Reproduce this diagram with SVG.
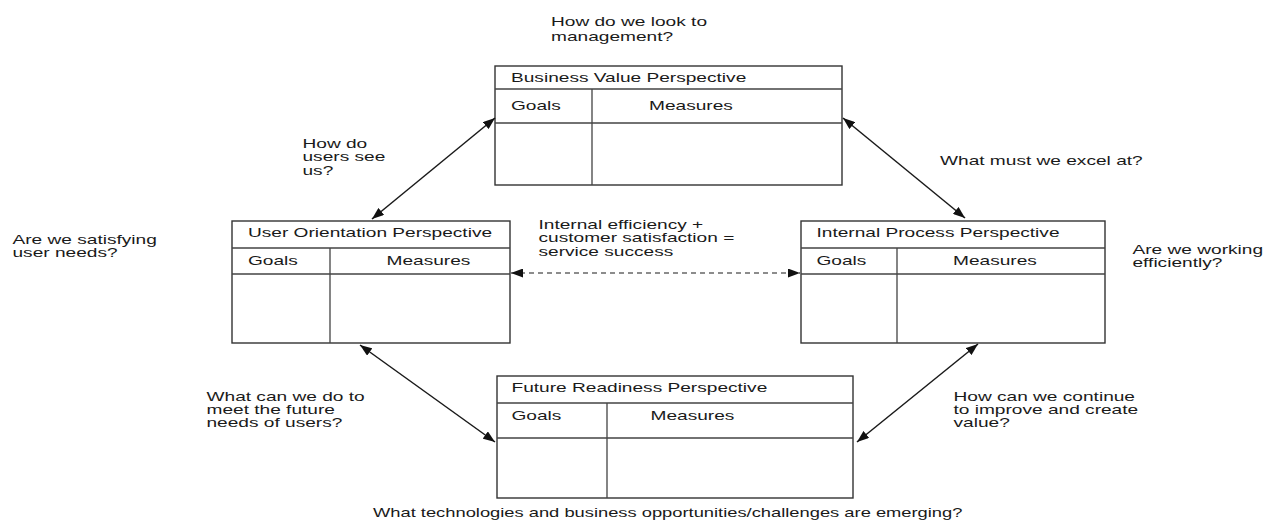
<svg xmlns="http://www.w3.org/2000/svg" width="1274" height="523" viewBox="0 0 1274 523">
  <style>
    .box { fill: #fff; stroke: #333; stroke-width: 1.4; }
    .div { stroke: #444; stroke-width: 1.3; fill: none; }
    .lbl { font-family: "Liberation Sans", Arial, sans-serif; font-size: 13px; fill: #1a1a1a; }
    .conn { stroke: #1a1a1a; stroke-width: 1.5; fill: none; }
    .dash { stroke-dasharray: 5 4; stroke-width: 1.2; }
  </style>
  <defs>
    <marker id="arrow" viewBox="0 0 12 9" refX="12" refY="4.5" markerWidth="12" markerHeight="9" markerUnits="userSpaceOnUse" orient="auto-start-reverse">
      <path d="M0,0 L12,4.5 L0,9 z" fill="#111"/>
    </marker>
  </defs>

  <rect width="1274" height="523" fill="#fff"/>

  <!-- free-standing questions -->
  <g id="questions" class="lbl">
    <text transform="translate(551,25.5) scale(1.47,1)"><tspan x="0">How do we look to</tspan><tspan x="0" dy="15.3">management?</tspan></text>
    <text transform="translate(302.5,147.5) scale(1.47,1)"><tspan x="0">How do</tspan><tspan x="0" dy="14">users see</tspan><tspan x="0" dy="14">us?</tspan></text>
    <text transform="translate(940,165) scale(1.47,1)">What must we excel at?</text>
    <text transform="translate(12.5,244) scale(1.47,1)"><tspan x="0">Are we satisfying</tspan><tspan x="0" dy="13">user needs?</tspan></text>
    <text transform="translate(1132.5,254) scale(1.47,1)"><tspan x="0">Are we working</tspan><tspan x="0" dy="13.5">efficiently?</tspan></text>
    <text transform="translate(538.5,228.5) scale(1.47,1)"><tspan x="0">Internal efficiency +</tspan><tspan x="0" dy="13.5">customer satisfaction =</tspan><tspan x="0" dy="14">service success</tspan></text>
    <text transform="translate(206.5,401) scale(1.47,1)"><tspan x="0">What can we do to</tspan><tspan x="0" dy="13.2">meet the future</tspan><tspan x="0" dy="13.2">needs of users?</tspan></text>
    <text transform="translate(953.5,401) scale(1.47,1)"><tspan x="0">How can we continue</tspan><tspan x="0" dy="13.2">to improve and create</tspan><tspan x="0" dy="13.2">value?</tspan></text>
    <text transform="translate(373,516.5) scale(1.41,1)">What technologies and business opportunities/challenges are emerging?</text>
  </g>

  <!-- perspective tables -->
  <g id="business-value">
    <rect class="box" x="495" y="66" width="347" height="119"/>
    <path class="div" d="M495,89 H842 M495,123 H842 M592,89 V185"/>
    <text class="lbl" transform="translate(511,81.5) scale(1.47,1)">Business Value Perspective</text>
    <text class="lbl" transform="translate(511,109.5) scale(1.47,1)">Goals</text>
    <text class="lbl" transform="translate(649,109.5) scale(1.47,1)">Measures</text>
  </g>

  <g id="user-orientation">
    <rect class="box" x="232" y="221" width="278" height="122"/>
    <path class="div" d="M232,248 H510 M232,274 H510 M330,248 V343"/>
    <text class="lbl" transform="translate(248,236.5) scale(1.47,1)">User Orientation Perspective</text>
    <text class="lbl" transform="translate(248,264.5) scale(1.47,1)">Goals</text>
    <text class="lbl" transform="translate(386.5,264.5) scale(1.47,1)">Measures</text>
  </g>

  <g id="internal-process">
    <rect class="box" x="801" y="221" width="304" height="122"/>
    <path class="div" d="M801,248 H1105 M801,274 H1105 M897,248 V343"/>
    <text class="lbl" transform="translate(816.5,236.5) scale(1.47,1)">Internal Process Perspective</text>
    <text class="lbl" transform="translate(816.5,264.5) scale(1.47,1)">Goals</text>
    <text class="lbl" transform="translate(953,264.5) scale(1.47,1)">Measures</text>
  </g>

  <g id="future-readiness">
    <rect class="box" x="497" y="376" width="356" height="122"/>
    <path class="div" d="M497,403 H853 M497,438 H853 M607,403 V498"/>
    <text class="lbl" transform="translate(511.5,391.5) scale(1.47,1)">Future Readiness Perspective</text>
    <text class="lbl" transform="translate(511.5,420) scale(1.47,1)">Goals</text>
    <text class="lbl" transform="translate(650.5,420) scale(1.47,1)">Measures</text>
  </g>

  <!-- two-way links between perspectives -->
  <g id="connectors">
    <path class="conn" d="M495,118 L372,219" marker-start="url(#arrow)" marker-end="url(#arrow)"/>
    <path class="conn" d="M843,118 L965,218" marker-start="url(#arrow)" marker-end="url(#arrow)"/>
    <path class="conn" d="M360,345 L495,442" marker-start="url(#arrow)" marker-end="url(#arrow)"/>
    <path class="conn" d="M978,344 L857,442" marker-start="url(#arrow)" marker-end="url(#arrow)"/>
    <path class="conn dash" d="M511,273 L800,273" marker-start="url(#arrow)" marker-end="url(#arrow)"/>
  </g>
</svg>
